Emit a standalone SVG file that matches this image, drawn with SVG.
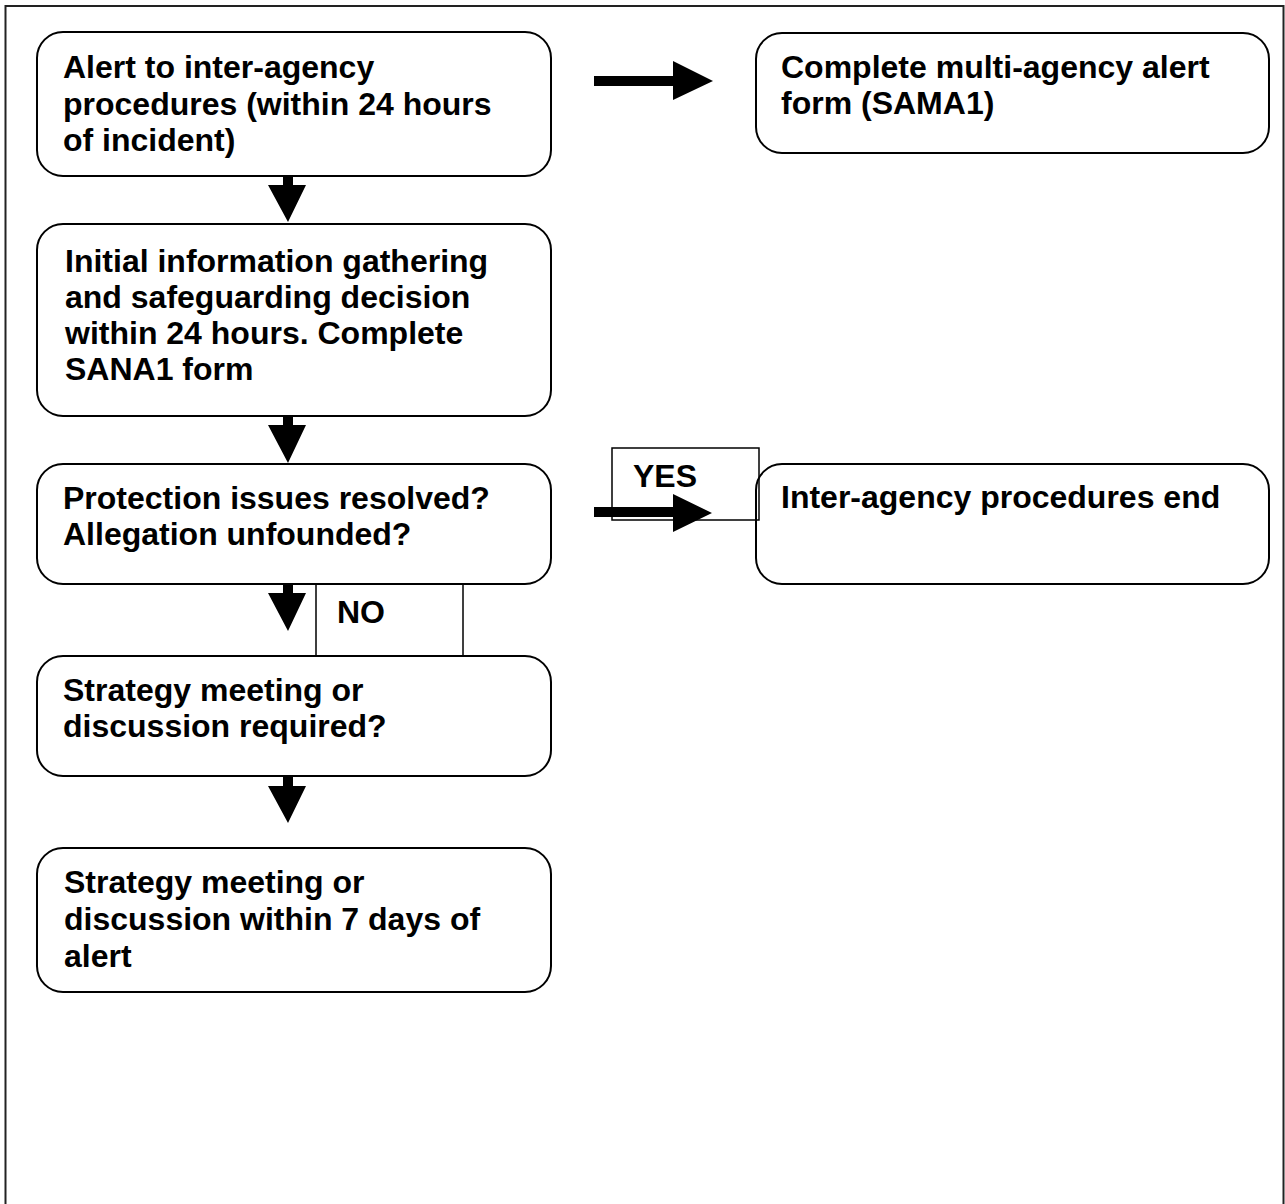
<svg xmlns="http://www.w3.org/2000/svg" width="1285" height="1204" viewBox="0 0 1285 1204">
<style>
.node{fill:#fff;stroke:#000;stroke-width:2}
.lbl{fill:none;stroke:#000;stroke-width:1.5}
text{font-family:"Liberation Sans",Arial,sans-serif;font-weight:bold;font-size:32px;fill:#000}
.arr{fill:#000;stroke:none}
</style>
<rect width="1285" height="1204" fill="#fff"/>
<rect x="5.5" y="6" width="1278" height="1220" fill="none" stroke="#222" stroke-width="2"/>
<g id="n1"><rect class="node" x="37" y="32" width="514" height="144" rx="26"/>
<text x="63" y="78">Alert to inter-agency</text><text x="63" y="115">procedures (within 24 hours</text><text x="63" y="151">of incident)</text></g>
<g id="n2"><rect class="node" x="756" y="33" width="513" height="120" rx="26"/>
<text x="781" y="78">Complete multi-agency alert</text><text x="781" y="114">form (SAMA1)</text></g>
<g id="n3"><rect class="node" x="37" y="224" width="514" height="192" rx="26"/>
<text x="65" y="272">Initial information gathering</text><text x="65" y="308">and safeguarding decision</text><text x="65" y="344">within 24 hours. Complete</text><text x="65" y="380">SANA1 form</text></g>
<g id="n4"><rect class="node" x="37" y="464" width="514" height="120" rx="26"/>
<text x="63" y="509">Protection issues resolved?</text><text x="63" y="545">Allegation unfounded?</text></g>
<g id="n5"><rect class="node" x="756" y="464" width="513" height="120" rx="26"/>
<text x="781" y="508">Inter-agency procedures end</text></g>
<g id="n6"><rect class="node" x="37" y="656" width="514" height="120" rx="26"/>
<text x="63" y="701">Strategy meeting or</text><text x="63" y="737">discussion required?</text></g>
<g id="n7"><rect class="node" x="37" y="848" width="514" height="144" rx="26"/>
<text x="64" y="893">Strategy meeting or</text><text x="64" y="930">discussion within 7 days of</text><text x="64" y="967">alert</text></g>
<g id="yes"><rect class="lbl" x="612" y="448" width="147" height="72"/><text x="633" y="487">YES</text></g>
<g id="no"><rect class="lbl" x="316" y="584" width="147" height="72"/><text x="337" y="623">NO</text></g>
<g id="connectors">
<path class="arr" d="M283,176 h10 v9 h13 l-18,37 l-20,-37 h15 z"/>
<path class="arr" d="M283,416 h10 v9 h13 l-18,38 l-20,-38 h15 z"/>
<path class="arr" d="M283,584 h10 v9 h13 l-18,38 l-20,-38 h15 z"/>
<path class="arr" d="M283,776 h10 v10 h13 l-18,37 l-20,-37 h15 z"/>
<path class="arr" d="M594,76 h79 v-15 l40,20 l-40,19 v-14 h-79 z"/>
<path class="arr" d="M594,507 h79 v-13 l39,19 l-39,19 v-15 h-79 z"/>
</g>
</svg>
